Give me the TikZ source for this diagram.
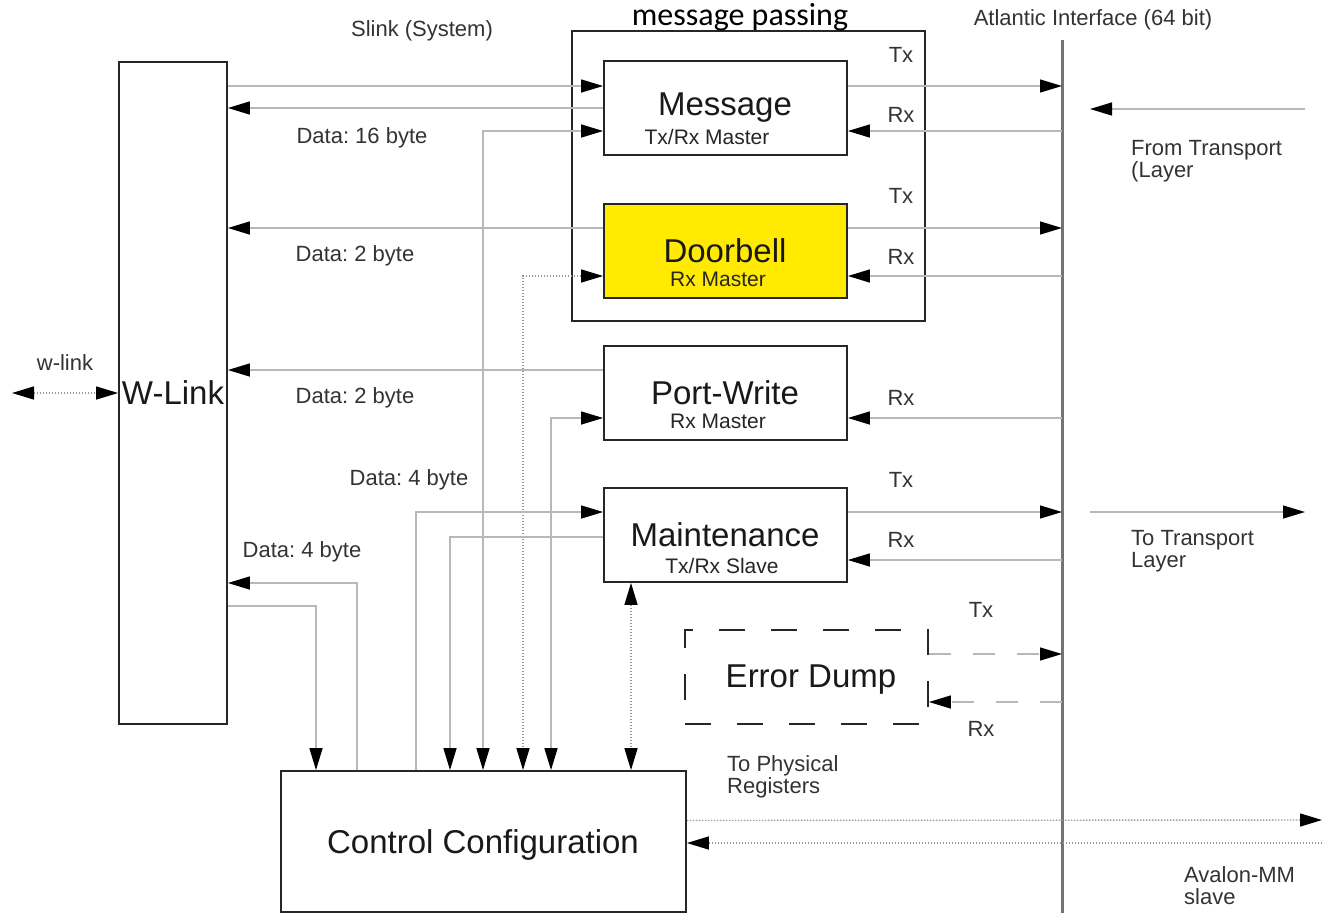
\documentclass[tikz,border=0pt]{standalone}
\usepackage{fontspec}
\setmainfont{Liberation Sans}
\newfontfamily\calfont{Carlito}
\usetikzlibrary{arrows.meta,calc}
\frenchspacing
\begin{document}
\begin{tikzpicture}[x=1pt,y=-1pt,
  >={Triangle[length=22pt,width=13pt,color=black]},
  box/.style={draw=black!85,line width=1.8pt,rectangle,inner sep=0pt,minimum width=243pt,minimum height=94pt},
  conn/.style={draw=black!28,line width=1.4pt},
  dotc/.style={draw=black!40,line width=1.4pt,dash pattern=on 1.5pt off 1.5pt},
  dashc/.style={draw=black!28,line width=1.4pt,dash pattern=on 22pt off 22pt},
  atl/.style={draw=black!55,line width=3pt},
  big/.style={font=\fontsize{33}{36}\selectfont,text=black!90},
  sub/.style={font=\fontsize{21}{24}\selectfont,text=black!85},
  lbl/.style={font=\fontsize{22}{22}\selectfont,text=black!80,inner sep=0pt},
  mlbl/.style={lbl,align=left,anchor=west},
]
\useasboundingbox (0,0) rectangle (1322,913);
\fill[white] (0,0) rectangle (1322,913);

% boxes
\node[box,minimum width=108pt,minimum height=662pt] (wlink) at (173,393) {};
\node[big] (wlinkt) at (173,393) {W-Link};
\node[box,minimum width=353pt,minimum height=290pt] (mp) at (748.5,176) {};
\node[box] (msg) at (725.5,108) {};
\node[big] (msgt) at (725,108) {Message};
\node[sub] (msgs) at (707,137) {Tx/Rx Master};
\node[box,fill={rgb,255:red,255;green,234;blue,0}] (db) at (725.5,251) {};
\node[big] (dbt) at (725,251) {Doorbell};
\node[sub] (dbs) at (718,279) {Rx Master};
\node[box] (pw) at (725.5,393) {};
\node[big] (pwt) at (725,393) {Port-Write};
\node[sub] (pws) at (718,421) {Rx Master};
\node[box] (mt) at (725.5,535) {};
\node[big] (mtt) at (725,535) {Maintenance};
\node[sub] (mts) at (722,566) {Tx/Rx Slave};
\node[box,dash pattern=on 26pt off 26pt] (ed) at (806.5,677) {};
\node[big] (edt) at (811,680) {Error Dump};
\node[box,minimum width=405pt,minimum height=141pt] (cc) at (483.5,841.5) {};
\node[big] (cct) at (483,845) {Control Configuration};

% Atlantic interface line
\coordinate (at) at (1062,40);
\coordinate (ab) at (1062,913);
\draw[atl] (at) -- (ab);

% helper coordinates
\coordinate (m1) at ([yshift=22pt]msg.west);
\coordinate (m1e) at ([yshift=22pt]msg.east);
\coordinate (m3) at ([yshift=-23pt]msg.west);
\coordinate (m3e) at ([yshift=-23pt]msg.east);
\coordinate (d1) at ([yshift=23pt]db.west);
\coordinate (d1e) at ([yshift=23pt]db.east);
\coordinate (d3) at ([yshift=-25pt]db.west);
\coordinate (d3e) at ([yshift=-25pt]db.east);
\coordinate (p1) at ([yshift=23pt]pw.west);
\coordinate (p3) at ([yshift=-25pt]pw.west);
\coordinate (p3e) at ([yshift=-25pt]pw.east);
\coordinate (t1) at ([yshift=23pt]mt.west);
\coordinate (t1e) at ([yshift=23pt]mt.east);
\coordinate (t2) at ([yshift=-2pt]mt.west);
\coordinate (t3e) at ([yshift=-25pt]mt.east);
\coordinate (e1e) at ([yshift=23pt]ed.east);
\coordinate (e3e) at ([yshift=-25pt]ed.east);
\coordinate (w1) at (316,606);
\coordinate (w2) at (357,583);
\coordinate (x416) at (416,0);
\coordinate (x450) at (450,0);
\coordinate (x483) at (483,0);
\coordinate (x523) at (523,0);
\coordinate (x551) at (551,0);
\coordinate (x631) at (631,0);

% left side connectors
\draw[conn,->] (wlink.east |- m1) -- (m1);
\draw[conn,->] (msg.west) -- (wlink.east |- msg.west);
\draw[conn,<->] (m3) -| (x483 |- cc.north);
\draw[conn,->] (d1) -- (wlink.east |- d1);
\draw[dotc,<->] (d3) -| (x523 |- cc.north);
\draw[conn,->] (p1) -- (wlink.east |- p1);
\draw[conn,<->] (p3) -| (x551 |- cc.north);
\draw[conn,->] (x416 |- cc.north) |- (t1);
\draw[conn,->] (t2) -| (x450 |- cc.north);
\draw[dotc,<->] (x631 |- mt.south) -- (x631 |- cc.north);
\draw[conn,->] (w2 |- cc.north) |- (wlink.east |- w2);
\draw[conn,->] (wlink.east |- w1) -| (w1 |- cc.north);

% right side connectors
\draw[conn,->] (m1e) -- (m1e -| at);
\draw[conn,->] (m3e -| at) -- (m3e);
\draw[conn,->] (d1e) -- (d1e -| at);
\draw[conn,->] (d3e -| at) -- (d3e);
\draw[conn,->] (p3e -| at) -- (p3e);
\draw[conn,->] (t1e) -- (t1e -| at);
\draw[conn,->] (t3e -| at) -- (t3e);
\draw[dashc,->] (e1e) -- (e1e -| at);
\draw[dashc,->] (e3e -| at) -- (e3e);

% beyond the Atlantic interface
\coordinate (fr1) at (1305,109);
\coordinate (fr2) at (1090,109);
\coordinate (to1) at (1090,512);
\coordinate (to2) at (1305,512);
\draw[conn,->] (fr1) -- (fr2);
\draw[conn,->] (to1) -- (to2);
\coordinate (c1) at ([yshift=21pt]cc.east);
\coordinate (c1r) at (1322,820);
\coordinate (c2r) at (1322,843);
\coordinate (c2) at (cc.east |- c2r);
\draw[dotc,->] (c1) -- (c1r);
\draw[dotc,->] (c2r) -- (c2);

% w-link
\coordinate (wl) at (12,393);
\draw[dotc,<->] (wl) -- (wlink.west);

% labels
\node[lbl] (l1) at (422,31) {Slink (System)};
\node[font=\calfont\fontsize{32}{32}\selectfont,inner sep=0pt] (l2) at (740,17) {message passing};
\node[lbl] (l3) at (1093,20) {Atlantic Interface (64 bit)};
\node[lbl] (l4) at (362,138) {Data: 16 byte};
\node[lbl] (l5) at (355,256) {Data: 2 byte};
\node[lbl] (l6) at (355,398) {Data: 2 byte};
\node[lbl] (l7) at (409,480) {Data: 4 byte};
\node[lbl] (l8) at (302,552) {Data: 4 byte};
\node[lbl] (l9) at (65,363) {w-link};
\node[lbl] (tx1) at (901,55) {Tx};
\node[lbl] (rx1) at (901,115) {Rx};
\node[lbl] (tx2) at (901,196) {Tx};
\node[lbl] (rx2) at (901,257) {Rx};
\node[lbl] (rx3) at (901,398) {Rx};
\node[lbl] (tx4) at (901,480) {Tx};
\node[lbl] (rx4) at (901,540) {Rx};
\node[lbl] (tx5) at (981,610) {Tx};
\node[lbl] (rx5) at (981,729) {Rx};
\node[mlbl] (l10) at (1131,161) {From Transport\\(Layer};
\node[mlbl] (l11) at (1131,551) {To Transport\\Layer};
\node[mlbl] (l12) at (727,777) {To Physical\\Registers};
\node[mlbl] (l13) at (1184,886) {Avalon-MM\\slave};
\end{tikzpicture}
\end{document}
